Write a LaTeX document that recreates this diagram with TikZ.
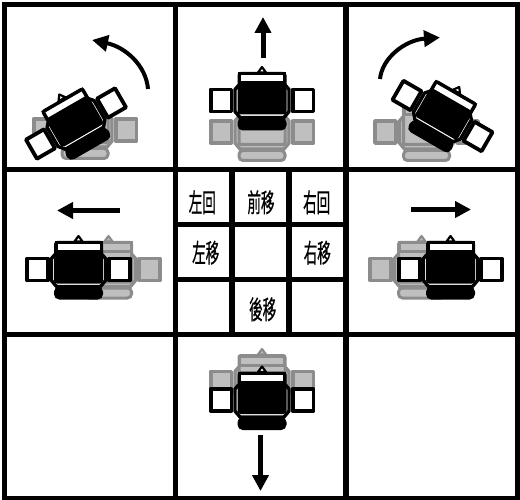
\documentclass[tikz,border=0pt]{standalone}
\usepackage{fontspec}
\newfontfamily\cjk[FakeStretch=0.52,FakeBold=0.6]{Noto Sans CJK TC}
\usetikzlibrary{arrows.meta}
\definecolor{ghostline}{gray}{0.55}
\definecolor{ghostfill}{gray}{0.75}
\tikzset{>={Triangle[length=16pt,width=16pt]}}
\tikzset{
  active/.code = {\colorlet{rline}{black}\colorlet{rbody}{black}\colorlet{rgap}{white}},
  ghost/.code = {\colorlet{rline}{ghostline}\colorlet{rbody}{ghostfill}\colorlet{rgap}{ghostfill}},
  gridline/.style = {line width=5.5pt},
  move/.style = {->,line width=5pt},
  turn/.style = {->,line width=4pt},
  label/.style = {font=\cjk\fontsize{26}{26}\selectfont,inner sep=0pt},
  robot/.pic = {
    % tail
    \draw[line width=3pt,draw=rline,fill=rbody,rounded corners=4pt] (-23,18.5) rectangle (23,28.5);
    % wheels
    \draw[line width=3.8pt,draw=rline,fill=rgap,line join=round] (-51.4,-11) rectangle (-30.6,11);
    \draw[line width=3.8pt,draw=rline,fill=rgap,line join=round] (30.6,-11) rectangle (51.4,11);
    % chassis
    \draw[line width=3.4pt,draw=rline,fill=rgap,line join=round] (-23.5,-15) -- (-27,-11) -- (-27,11) -- (-22,17) -- (22,17) -- (27,11) -- (27,-11) -- (23.5,-15) -- cycle;
    \draw[line width=3pt,draw=rline,fill=rbody,rounded corners=2pt] (-23,-27) rectangle (23,12.5);
    % head
    \draw[line width=3pt,draw=rline,fill=rgap] (-22.5,-26.5) rectangle (22.5,-17.5);
    \draw[line width=2.2pt,draw=rline,fill=rgap,line join=round] (-4,-28) -- (0,-33.5) -- (4,-28) -- cycle;
  }
}

\begin{document}
\begin{tikzpicture}[x=1pt,y=-1pt]
  \useasboundingbox (0,0) rectangle (520,500);
  % start poses
  \pic[ghost] at (85,130) {robot};
  \pic[ghost] at (262,132) {robot};
  \pic[ghost] at (426.5,132) {robot};
  \pic[ghost] at (108.5,269.5) {robot};
  \pic[ghost] at (421.5,269.5) {robot};
  \pic[ghost] at (262,382.5) {robot};
  % end poses
  \pic[active,rotate=30] at (76,123.5) {robot};
  \pic[active] at (262,100.5) {robot};
  \pic[active,rotate=-30] at (442.5,116) {robot};
  \pic[active] at (78.5,269.5) {robot};
  \pic[active] at (450.5,269.5) {robot};
  \pic[active] at (262,400) {robot};
  % arrows
  \draw[turn] (148,89) .. controls (146,65) and (125,47) .. (92,40);
  \draw[move] (263,58) -- (263,17);
  \draw[turn] (380,79) .. controls (382,58) and (405,40) .. (440,37.5);
  \draw[move] (120,210.5) -- (57,210.5);
  \draw[move] (411,209.5) -- (471,209.5);
  \draw[move] (260.5,435) -- (260.5,491);
  % grid
  \draw[line width=4.6pt] (2.4,4.7) -- (520,4.7);
  \draw[line width=4.6pt] (4.7,2.4) -- (4.7,500);
  \draw[gridline] (517.5,2.4) -- (517.5,500);
  \draw[line width=4pt] (2.4,498) -- (520,498);
  \foreach \x in {175.5,346} \draw[gridline] (\x,2.4) -- (\x,500);
  \foreach \y in {169.8,334.8} \draw[line width=5pt] (2.4,\y) -- (520,\y);
  \foreach \x in {232,289} \draw[gridline] (\x,169.8) -- (\x,334.8);
  \foreach \y in {224.5,279.5} \draw[gridline] (175.5,\y) -- (346,\y);
  % labels
  \node[label] (leftturn) at (202.3,202.3) {左回};
  \node[label] (forward) at (261,202.3) {前移};
  \node[label] (rightturn) at (316.7,202.3) {右回};
  \node[label] (leftmove) at (205.7,252.7) {左移};
  \node[label] (rightmove) at (317.3,252.7) {右移};
  \node[label] (backward) at (262.7,309.3) {後移};
\end{tikzpicture}
\end{document}
